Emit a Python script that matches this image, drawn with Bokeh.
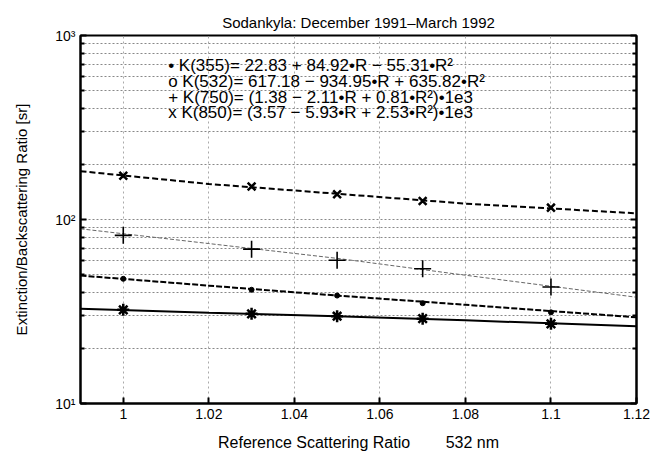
from bokeh.plotting import figure
from bokeh.models import (LogAxis, FixedTicker, Label, Range1d,
                          CustomJSTickFormatter)
from bokeh.embed import file_html
from bokeh.resources import INLINE

# ---------------- data ----------------
title = "Sodankyla: December 1991\u2013March 1992"
x_ticks = [1.0, 1.02, 1.04, 1.06, 1.08, 1.1, 1.12]
y_major = [10, 100, 1000]
y_minor = [20, 30, 40, 50, 60, 70, 80, 90, 200, 300, 400, 500, 600, 700, 800, 900]

R_points = [1.0, 1.03, 1.05, 1.07, 1.1]
k355_pts = [47.6, 41.5, 38.6, 35.1, 31.3]
k532_pts = [32.3, 30.7, 29.8, 28.9, 27.1]
k750_pts = [82, 69, 60, 54, 43]
k850_pts = [173, 151, 137, 126, 116]

R_curve = [0.99, 1.02, 1.05, 1.08, 1.12]
k355_fit = [49.6, 43.7, 38.6, 34.4, 29.4]
k532_fit = [32.7, 31.1, 29.8, 28.3, 26.3]
k750_fit = [89, 74, 61.5, 49.8, 37.8]
k850_fit = [183, 156, 138, 122, 108]

legend_lines = [
    "\u2022 K(355)= 22.83 + 84.92\u2022R \u2212 55.31\u2022R\u00b2",
    "o K(532)= 617.18 \u2212 934.95\u2022R + 635.82\u2022R\u00b2",
    "+ K(750)= (1.38 \u2212 2.11\u2022R + 0.81\u2022R\u00b2)\u20221e3",
    "x K(850)= (3.57 \u2212 5.93\u2022R + 2.53\u2022R\u00b2)\u20221e3",
]
x_label = "Reference Scattering Ratio" + "\u00a0" * 8 + "532 nm"
y_label = "Extinction/Backscattering Ratio [sr]"

FONT = "Liberation Sans"

p = figure(width=656, height=458, y_axis_type="log",
           x_range=Range1d(0.99, 1.12), y_range=Range1d(10, 1000),
           output_backend="svg", toolbar_location=None,
           min_border_left=80, min_border_right=20,
           min_border_top=35, min_border_bottom=55)
p.outline_line_color = "black"
p.outline_line_width = 2

p.title.text = title
p.title.align = "center"
p.title.text_font = FONT
p.title.text_font_size = "15px"
p.title.text_font_style = "normal"
p.title.text_color = "black"

xt = FixedTicker(ticks=x_ticks)
yt = FixedTicker(ticks=y_major, minor_ticks=y_minor)
xfmt = CustomJSTickFormatter(code="return String(parseFloat(tick.toFixed(2)));")
yfmt = CustomJSTickFormatter(code="const e = Math.round(Math.log10(tick)); return '10' + ['\u2070','\u00b9','\u00b2','\u00b3','\u2074'][e];")
blank = CustomJSTickFormatter(code="return ' ';")

for ax in [p.xaxis[0], p.yaxis[0]]:
    ax.axis_line_color = "black"
    ax.axis_line_width = 2
    ax.major_tick_in = 6
    ax.major_tick_out = 0
    ax.minor_tick_in = 4
    ax.minor_tick_out = 0
    ax.major_tick_line_width = 2
    ax.minor_tick_line_width = 2
    ax.major_label_text_font = FONT
    ax.major_label_text_font_size = "14px"
    ax.major_label_text_color = "black"
    ax.axis_label_text_font = FONT
    ax.axis_label_text_font_size = "15px"
    ax.axis_label_text_font_style = "normal"
    ax.axis_label_text_color = "black"

p.xaxis[0].ticker = xt
p.xaxis[0].formatter = xfmt
p.xaxis[0].axis_label = x_label
p.xaxis[0].axis_label_text_font_size = "16px"
p.xaxis[0].axis_label_standoff = 12
p.yaxis[0].ticker = yt
p.yaxis[0].formatter = yfmt
p.yaxis[0].axis_label = y_label
p.yaxis[0].axis_label_standoff = 22

rax = LogAxis(ticker=yt, formatter=blank,
              major_tick_in=6, major_tick_out=0, minor_tick_in=4, minor_tick_out=0,
              major_tick_line_width=2, minor_tick_line_width=2,
              axis_line_width=2)
p.add_layout(rax, "right")

p.xgrid.ticker = xt
p.xgrid.grid_line_color = "#aaaaaa"
p.xgrid.grid_line_dash = "2 3"
p.ygrid.ticker = yt
p.ygrid.grid_line_color = "#888888"
p.ygrid.grid_line_dash = "2 2"
p.ygrid.minor_grid_line_color = "#888888"
p.ygrid.minor_grid_line_dash = "2 2"

# fitted curves
p.line(R_curve, k850_fit, line_dash="6 3", line_width=2, color="black")
p.line(R_curve, k750_fit, line_dash="4 2", line_width=1, color="#666666")
p.line(R_curve, k355_fit, line_dash="6 2", line_width=2, color="black")
p.line(R_curve, k532_fit, line_width=2, color="black")

# measurements
p.scatter(R_points, k850_pts, marker="x", size=11, line_width=2.5, color="black")
p.scatter(R_points, k750_pts, marker="cross", size=17, line_width=1.6, color="black")
p.scatter(R_points, k355_pts, marker="circle", size=5, color="black")
p.scatter(R_points, k532_pts, marker="asterisk", size=12, line_width=2.5, color="black")

legend_y = [687, 565, 462, 383]
for txt, yy in zip(legend_lines, legend_y):
    p.add_layout(Label(x=1.0105, y=yy, text=txt, text_font=FONT,
                       text_font_size="17px", text_baseline="middle",
                       text_color="black"))

open("out.html", "w").write(file_html(p, INLINE))
